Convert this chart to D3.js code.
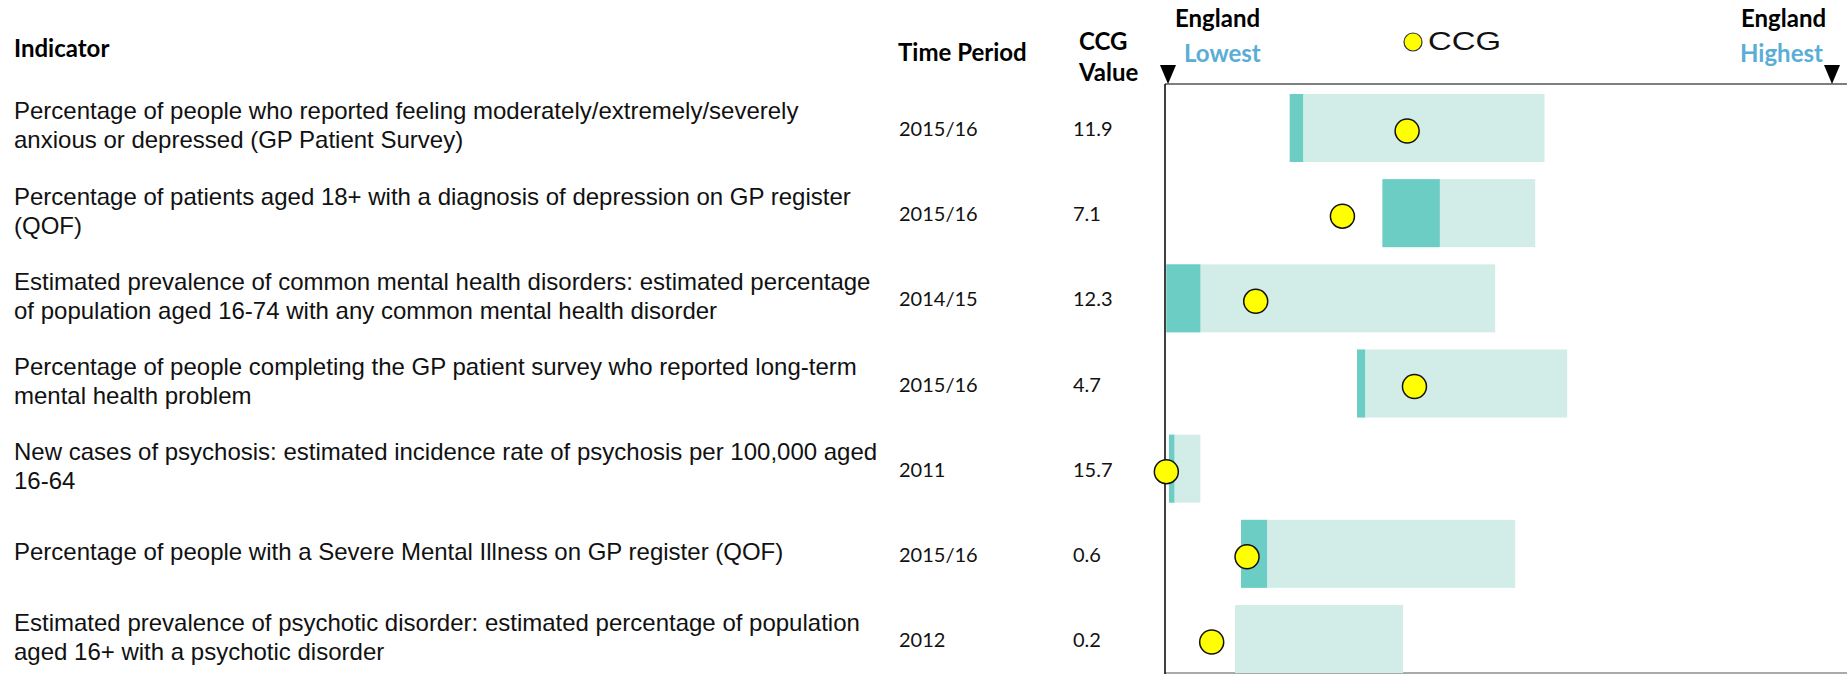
<!DOCTYPE html>
<html>
<head>
<meta charset="utf-8">
<script src="https://cdn.jsdelivr.net/npm/d3@7"></script>
<style>
    body { margin: 0; background: #fff; }
    svg { display: block; }
</style>
</head>
<body>
<div id="chart"></div>
<script>
// indicator text, one entry per line
const indicators = [
    ["Percentage of people who reported feeling moderately/extremely/severely", "anxious or depressed (GP Patient Survey)"],
    ["Percentage of patients aged 18+ with a diagnosis of depression on GP register", "(QOF)"],
    ["Estimated prevalence of common mental health disorders: estimated percentage", "of population aged 16-74 with any common mental health disorder"],
    ["Percentage of people completing the GP patient survey who reported long-term", "mental health problem"],
    ["New cases of psychosis: estimated incidence rate of psychosis per 100,000 aged", "16-64"],
    ["Percentage of people with a Severe Mental Illness on GP register (QOF)"],
    ["Estimated prevalence of psychotic disorder: estimated percentage of population", "aged 16+ with a psychotic disorder"],
];
const timePeriods = ["2015/16", "2015/16", "2014/15", "2015/16", "2011", "2015/16", "2012"];
const ccgValues = ["11.9", "7.1", "12.3", "4.7", "15.7", "0.6", "0.2"];

// positions on the England lowest..highest spine, in % of the range
const rangeStart = [18.7, 32.6, 0.2, 28.8, 0.6, 11.4, 10.5];
const rangeMid = [20.7, 41.2, 5.3, 30.0, 1.4, 15.3, 10.5];
const rangeEnd = [56.9, 55.5, 49.5, 60.3, 5.3, 52.5, 35.7];
const ccgPosition = [36.3, 26.6, 13.6, 37.4, 0.2, 12.3, 7.0];

const width = 1847;
const height = 674;
const axisX = 1165;
const axisTop = 84;

const svg = d3
    .select("#chart")
    .append("svg")
    .attr("width", width)
    .attr("height", height);

const rows = indicators.map((lines, i) => ({
    i,
    lines,
    time: timePeriods[i],
    value: ccgValues[i],
    start: rangeStart[i],
    mid: rangeMid[i],
    end: rangeEnd[i],
    ccg: ccgPosition[i],
}));

const xScale = d3.scaleLinear().domain([0, 100]).range([axisX, 1832]);
const yScale = d3
    .scaleBand()
    .domain(rows.map((d) => d.i))
    .range([94, 673])
    .paddingInner(0.2016)
    .paddingOuter(0);
const mid = (d) => yScale(d.i) + yScale.bandwidth() / 2;

const headFont = "Lato, 'Open Sans', sans-serif";
const bodyFont = "Arial, 'Liberation Sans', sans-serif";
const blue = "#5aaed6";

// column headers
const head = svg.append("g")
    .attr("font-family", headFont)
    .attr("font-weight", "bold")
    .attr("font-size", 24);

head.append("text").attr("x", 14).attr("y", 57).text("Indicator");
head.append("text").attr("x", 898).attr("y", 61).text("Time Period");
head.append("text").attr("x", 1079).attr("y", 50).text("CCG");
head.append("text").attr("x", 1079).attr("y", 81).text("Value");
head.append("text").attr("x", 1175).attr("y", 27).text("England");
head.append("text").attr("x", 1184).attr("y", 62).attr("fill", blue).text("Lowest");
head.append("text").attr("x", 1741).attr("y", 27).text("England");
head.append("text").attr("x", 1740).attr("y", 62).attr("fill", blue).text("Highest");

// legend
svg.append("circle")
    .attr("cx", 1413)
    .attr("cy", 42)
    .attr("r", 9)
    .attr("fill", "#ffff00")
    .attr("stroke", "#333")
    .attr("stroke-width", 1.2);
svg.append("text")
    .attr("x", 1428)
    .attr("y", 50)
    .attr("font-family", bodyFont)
    .attr("font-size", 25)
    .attr("textLength", 73)
    .attr("lengthAdjust", "spacingAndGlyphs")
    .attr("fill", "#111")
    .text("CCG");

// spine axis lines and triangles
svg.append("line")
    .attr("x1", axisX).attr("x2", width)
    .attr("y1", axisTop).attr("y2", axisTop)
    .attr("stroke", "#555")
    .attr("stroke-width", 1.5);

svg.append("line")
    .attr("x1", axisX).attr("x2", width)
    .attr("y1", 673).attr("y2", 673)
    .attr("stroke", "#aaa")
    .attr("stroke-width", 2);

svg.selectAll(".marker")
    .data([0, 100])
    .join("path")
    .attr("class", "marker")
    .attr("d", (d) => {
        const x = xScale(d) + (d === 0 ? 3 : 0);
        return `M${x - 8},${65} L${x + 8},${65} L${x},${84} Z`;
    })
    .attr("fill", "#000");

// range bars
const bars = svg.append("g").attr("class", "bars");

bars.selectAll(".light")
    .data(rows)
    .join("rect")
    .attr("class", "light")
    .attr("x", (d) => xScale(d.start))
    .attr("y", (d) => yScale(d.i))
    .attr("width", (d) => xScale(d.end) - xScale(d.start))
    .attr("height", yScale.bandwidth())
    .attr("fill", "#d2ece8");

bars.selectAll(".dark")
    .data(rows)
    .join("rect")
    .attr("class", "dark")
    .attr("x", (d) => xScale(d.start))
    .attr("y", (d) => yScale(d.i))
    .attr("width", (d) => xScale(d.mid) - xScale(d.start))
    .attr("height", yScale.bandwidth())
    .attr("fill", "#6bcdc4");

// vertical axis (England lowest)
svg.append("line")
    .attr("x1", axisX).attr("x2", axisX)
    .attr("y1", axisTop).attr("y2", height)
    .attr("stroke", "#000")
    .attr("stroke-width", 1.5);

// CCG dots
svg.append("g")
    .selectAll("circle")
    .data(rows)
    .join("circle")
    .attr("cx", (d) => xScale(d.ccg))
    .attr("cy", (d) => mid(d) + 3)
    .attr("r", 12)
    .attr("fill", "#ffff00")
    .attr("stroke", "#111")
    .attr("stroke-width", 1.5);

// table text
const labels = svg.append("g")
    .attr("font-family", bodyFont)
    .attr("font-size", 24)
    .attr("fill", "#111");

labels.selectAll("text")
    .data(rows)
    .join("text")
    .attr("x", 14)
    .attr("y", (d) => mid(d) - ((d.lines.length - 1) * 29) / 2 + 6)
    .selectAll("tspan")
    .data((d) => d.lines)
    .join("tspan")
    .attr("x", 14)
    .attr("dy", (d, j) => (j === 0 ? 0 : 29))
    .text((d) => d);

const cells = svg.append("g")
    .attr("font-family", headFont)
    .attr("font-size", 20)
    .attr("fill", "#111");

cells.selectAll(".time")
    .data(rows)
    .join("text")
    .attr("class", "time")
    .attr("x", 899)
    .attr("y", (d) => mid(d) + 8)
    .text((d) => d.time);

cells.selectAll(".value")
    .data(rows)
    .join("text")
    .attr("class", "value")
    .attr("x", 1073)
    .attr("y", (d) => mid(d) + 8)
    .text((d) => d.value);
</script>
</body>
</html>
